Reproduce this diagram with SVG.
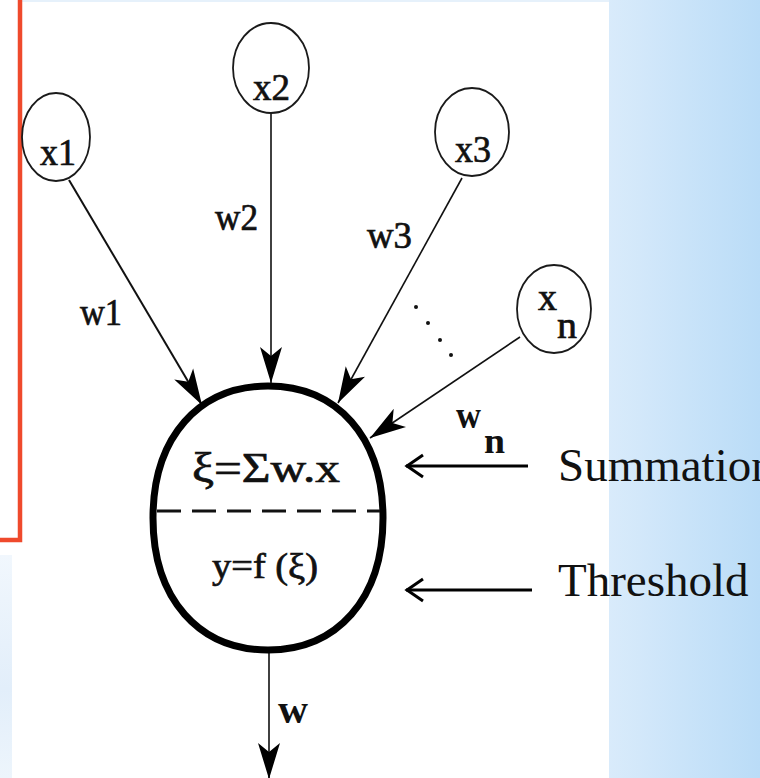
<svg xmlns="http://www.w3.org/2000/svg" width="760" height="778" viewBox="0 0 760 778">
<style>
.t{font-family:"Liberation Serif","Times New Roman",serif;fill:#111;}
.b{stroke:#111;stroke-width:0.7;}
.in{fill:none;stroke:#1a1a1a;stroke-width:1.8;}
.edge{stroke:#111;stroke-width:1.6;fill:none;}
.ptr{stroke:#000;stroke-width:3;fill:none;stroke-linecap:butt;}
</style>
<defs>
<linearGradient id="bg" x1="0" y1="0" x2="1" y2="0">
<stop offset="0" stop-color="#d9ebfb"/>
<stop offset="1" stop-color="#badcf7"/>
</linearGradient>
<linearGradient id="bg2" x1="0" y1="0" x2="0" y2="1">
<stop offset="0" stop-color="#f1f7fd"/>
<stop offset="0.6" stop-color="#e2eefa"/>
<stop offset="1" stop-color="#edf5fc"/>
</linearGradient>
<marker id="ah" viewBox="-37 -12 38 24" refX="0" refY="0" markerWidth="38" markerHeight="24" markerUnits="userSpaceOnUse" orient="auto">
<path d="M0,0 L-36,-11 L-27,0 L-36,11 Z" fill="#000"/>
</marker>
</defs>
<rect width="760" height="778" fill="#fff"/>
<rect x="609" y="0" width="151" height="778" fill="url(#bg)"/>
<rect x="22" y="0" width="587" height="2" fill="#e6f1fb"/>
<rect x="0" y="555" width="12" height="223" fill="url(#bg2)"/>
<path d="M20,0 V540 H0" fill="none" stroke="#ef4a2c" stroke-width="4.5"/>

<g id="connectors">
<line class="edge" x1="69" y1="180" x2="202" y2="405" marker-end="url(#ah)" style="stroke-width:2"/>
<line class="edge" x1="271" y1="113" x2="271" y2="383" marker-end="url(#ah)"/>
<line class="edge" x1="462" y1="178" x2="338" y2="403" marker-end="url(#ah)"/>
<line class="edge" x1="520" y1="337" x2="370" y2="438" marker-end="url(#ah)"/>
<line class="edge" x1="269" y1="650" x2="269" y2="779" marker-end="url(#ah)"/>
<g fill="#111">
<circle cx="416" cy="307" r="2"/>
<circle cx="428" cy="323" r="2"/>
<circle cx="440" cy="340" r="2"/>
<circle cx="451" cy="355" r="2"/>
</g>
<text class="t b" x="80" y="325" font-size="38" textLength="42" lengthAdjust="spacingAndGlyphs">w1</text>
<text class="t b" x="215" y="230" font-size="38" textLength="43" lengthAdjust="spacingAndGlyphs">w2</text>
<text class="t b" x="367" y="248" font-size="38" textLength="45" lengthAdjust="spacingAndGlyphs">w3</text>
<text class="t" x="456" y="428" font-size="38" font-weight="bold" textLength="25" lengthAdjust="spacingAndGlyphs">w</text>
<text class="t" x="484" y="453" font-size="36" font-weight="bold" textLength="21" lengthAdjust="spacingAndGlyphs">n</text>
<text class="t" x="278" y="723" font-size="40" font-weight="bold" textLength="30" lengthAdjust="spacingAndGlyphs">w</text>
</g>

<g id="x1">
<ellipse class="in" cx="56" cy="137" rx="34" ry="44"/>
<text class="t b" x="40" y="165" font-size="38" textLength="36" lengthAdjust="spacingAndGlyphs">x1</text>
</g>
<g id="x2">
<ellipse class="in" cx="271" cy="68" rx="38" ry="45"/>
<text class="t b" x="253" y="100" font-size="38" textLength="37" lengthAdjust="spacingAndGlyphs">x2</text>
</g>
<g id="x3">
<ellipse class="in" cx="472" cy="132" rx="37" ry="44"/>
<text class="t b" x="455" y="162" font-size="38" textLength="36" lengthAdjust="spacingAndGlyphs">x3</text>
</g>
<g id="xn">
<ellipse class="in" cx="554" cy="309" rx="37" ry="44"/>
<text class="t b" x="538" y="310" font-size="38" textLength="19" lengthAdjust="spacingAndGlyphs">x</text>
<text class="t b" x="557" y="338" font-size="38" textLength="20" lengthAdjust="spacingAndGlyphs">n</text>
</g>

<g id="neuron">
<path d="M268,386 C337,386 383,437 383,518 C383,599 337,650 268,650 C199,650 153,599 153,518 C153,437 199,386 268,386 Z" fill="none" stroke="#000" stroke-width="7"/>
<line x1="157" y1="511" x2="380" y2="511" stroke="#111" stroke-width="3" stroke-dasharray="24 11"/>
<text class="t b" x="192" y="482" font-size="42" textLength="148" lengthAdjust="spacingAndGlyphs">ξ=Σw.x</text>
<text class="t b" x="212" y="578" font-size="36" textLength="106" lengthAdjust="spacingAndGlyphs">y=f (ξ)</text>
</g>

<g id="summation">
<line class="ptr" x1="406" y1="466" x2="528" y2="466"/>
<path class="ptr" d="M423,455 L407,466 L423,477"/>
<text class="t" x="558" y="481" font-size="47" fill="#000">Summation</text>
</g>
<g id="threshold">
<line class="ptr" x1="406" y1="590" x2="532" y2="590"/>
<path class="ptr" d="M423,579 L407,590 L423,601"/>
<text class="t" x="558" y="596" font-size="47" fill="#000">Threshold</text>
</g>
</svg>
